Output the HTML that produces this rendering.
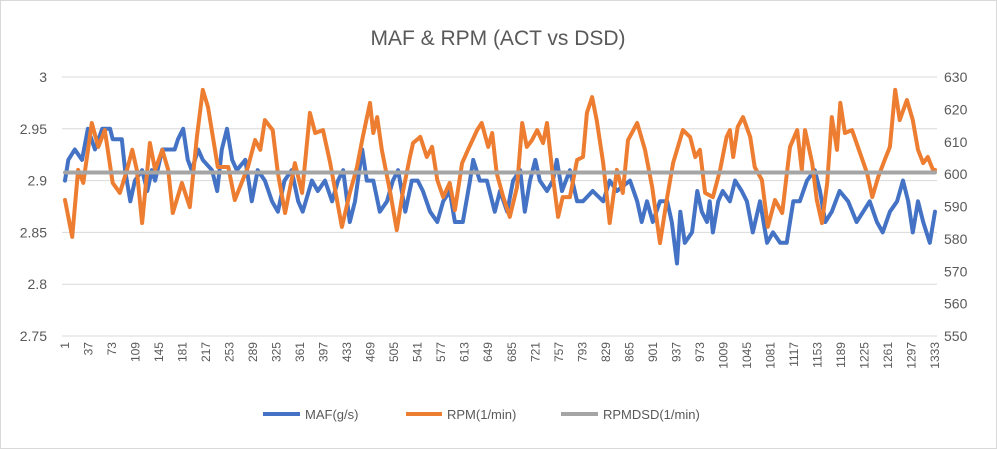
<!DOCTYPE html>
<html><head><meta charset="utf-8"><style>
body{margin:0;background:#fff;font-family:"Liberation Sans",sans-serif}
#wrap{position:relative;width:997px;height:449px;overflow:hidden}
</style></head><body>
<div id="wrap">
<svg id="chart" width="997" height="449" xmlns="http://www.w3.org/2000/svg">
<rect x="0.5" y="0.5" width="996" height="448" fill="#fff" stroke="#d9d9d9"/>
<text x="498" y="45" text-anchor="middle" font-size="21" fill="#595959" font-family="Liberation Sans, sans-serif">MAF &amp; RPM (ACT vs DSD)</text>
<g id="grid"></g><g id="yl"></g><g id="yr"></g><g id="xl"></g><g id="series"></g>
<g font-size="13" fill="#595959" font-family="Liberation Sans, sans-serif">
<line x1="263" y1="414" x2="300" y2="414" stroke="#4472c4" stroke-width="4"/>
<text x="305" y="419">MAF(g/s)</text>
<line x1="406" y1="414" x2="442" y2="414" stroke="#ed7d31" stroke-width="4"/>
<text x="447" y="419">RPM(1/min)</text>
<line x1="561" y1="414" x2="598" y2="414" stroke="#a5a5a5" stroke-width="4"/>
<text x="603" y="419">RPMDSD(1/min)</text>
</g>
</svg></div>
<script>
const leftTicks=[2.75,2.8,2.85,2.9,2.95,3];
const leftTickLabels=["2.75","2.8","2.85","2.9","2.95","3"];
const rightTicks=[550,560,570,580,590,600,610,620,630];
const xTickLabels=[];for(let v=1;v<=1333;v+=36)xTickLabels.push(v);
const mafIdx=[1,6,16,27,36,47,58,70,74,88,93,101,108,119,127,134,139,150,169,174,182,189,195,205,212,226,234,241,249,257,264,277,287,296,307,318,327,337,348,358,365,379,388,399,410,419,427,437,445,456,463,473,483,494,503,511,522,532,541,549,560,571,580,590,598,610,621,626,636,647,659,667,678,687,698,705,713,721,728,739,748,754,762,774,785,794,809,825,835,846,866,877,884,892,901,912,923,930,938,943,950,961,969,976,984,988,993,1001,1008,1019,1027,1037,1045,1054,1065,1076,1085,1096,1106,1116,1126,1137,1149,1157,1165,1175,1187,1200,1213,1223,1233,1244,1253,1264,1275,1284,1292,1299,1307,1315,1325,1333];
const mafVals=[2.90,2.92,2.93,2.92,2.95,2.93,2.95,2.95,2.94,2.94,2.91,2.88,2.90,2.91,2.89,2.91,2.90,2.93,2.93,2.94,2.95,2.92,2.91,2.93,2.92,2.91,2.89,2.93,2.95,2.92,2.91,2.92,2.88,2.91,2.90,2.88,2.87,2.90,2.91,2.88,2.87,2.90,2.89,2.90,2.88,2.90,2.91,2.86,2.88,2.93,2.90,2.90,2.87,2.88,2.90,2.91,2.87,2.90,2.90,2.89,2.87,2.86,2.88,2.89,2.86,2.86,2.90,2.92,2.90,2.90,2.87,2.89,2.87,2.90,2.91,2.87,2.90,2.92,2.90,2.89,2.90,2.92,2.89,2.91,2.88,2.88,2.89,2.88,2.90,2.89,2.90,2.88,2.86,2.88,2.86,2.88,2.88,2.86,2.82,2.87,2.84,2.85,2.89,2.87,2.86,2.88,2.85,2.88,2.89,2.88,2.90,2.89,2.88,2.85,2.88,2.84,2.85,2.84,2.84,2.88,2.88,2.90,2.91,2.89,2.86,2.87,2.89,2.88,2.86,2.87,2.88,2.86,2.85,2.87,2.88,2.90,2.88,2.85,2.88,2.86,2.84,2.87];
const rpmIdx=[1,12,21,29,42,52,62,74,85,96,104,111,119,131,139,150,159,166,180,192,203,212,220,235,251,261,281,292,300,307,319,327,338,353,364,376,384,396,407,425,437,448,457,468,473,479,486,499,509,518,529,534,545,555,563,571,580,590,598,609,618,632,639,649,655,662,672,682,693,701,708,716,724,733,739,748,756,763,774,785,794,800,808,815,825,835,846,855,863,877,889,900,912,923,932,947,958,966,973,981,993,1004,1014,1019,1024,1031,1039,1050,1057,1068,1077,1088,1099,1111,1122,1129,1134,1145,1152,1160,1168,1175,1183,1188,1195,1206,1215,1229,1237,1246,1256,1264,1272,1279,1290,1299,1307,1315,1322,1330,1333];
const rpmVals=[592,580.6,601.3,597.3,615.8,608.4,613.6,597.3,594.2,601.3,607.5,601.3,584.9,609.6,601.3,607.5,601.3,588,597.3,589.8,611.5,626,620.7,602.2,602.2,592,602.2,610.5,607.5,616.7,613.6,600.3,588,603.4,594.2,618.9,612.7,613.6,603.4,583.7,594.2,602.2,611.5,622,612.7,617.6,607.5,594.2,582.7,594.2,605.3,609.6,611.5,605.3,608.4,598.2,592.9,597.3,588.9,603.4,607.5,613.6,615.8,608.4,612.7,600.3,592.9,586.8,596,615.8,608.4,610.5,613.6,609.6,615.8,599.1,586.8,592.9,592.9,604.4,605.3,618.9,623.8,616.7,603.4,584.9,601.3,594.2,610.5,615.8,607.5,596,578.7,592.9,603.4,613.6,611.5,605.3,607.5,594.2,592.9,601.3,611.5,613.6,605.3,614.6,617.6,611.5,602.2,598.2,583.7,592,588,608.4,613.6,601.3,613.6,603.4,592,584.9,597.3,617.6,607.5,622,612.7,613.6,608.4,600.3,592.9,599.1,604.4,608.4,626,616.7,622.9,616.7,607.5,603.4,605.3,601.3,601.3];
const rpmDsd=[600.5,600.5];
const rpmDsdIdx=[1,1333];

const NS="http://www.w3.org/2000/svg";
const X0=65,X1=935,YT=77,YB=336;
const xs=i=>X0+(i-1)*(X1-X0)/1332;
const yL=v=>YB-(v-2.75)*(YB-YT)/0.25;
const yR=v=>YB-(v-550)*(YB-YT)/80;
function mk(tag,attrs,parent){const e=document.createElementNS(NS,tag);for(const k in attrs)e.setAttribute(k,attrs[k]);parent.appendChild(e);return e;}
const grid=document.getElementById('grid'),yl=document.getElementById('yl'),yr=document.getElementById('yr'),xl=document.getElementById('xl'),ser=document.getElementById('series');
leftTicks.forEach((v,k)=>{
 const g=mk('line',{x1:62,x2:937,y1:yL(v),y2:yL(v),stroke:'#d9d9d9','stroke-width':1},grid);
 
 
 const t=mk('text',{x:47,y:yL(v)+5,'text-anchor':'end','font-size':14,fill:'#595959'},yl);
 t.textContent=leftTickLabels[k];
 
 
});
rightTicks.forEach(v=>{
 const t=mk('text',{x:944,y:yR(v)+5,'font-size':14,fill:'#595959'},yr);
 t.textContent=v;
 
 
});
xTickLabels.forEach(v=>{
 const x=xs(v)+4;
 const t=mk('text',{x:x,y:342,'text-anchor':'end','font-size':12,fill:'#595959',transform:`rotate(-90 ${x} 342)`},xl);
 t.textContent=v;
 
 
});
function line(idx,vals,yf,color,name){
 const p=idx.map((i,k)=>xs(i).toFixed(1)+','+yf(vals[k]).toFixed(1)).join(' ');
 const e=mk('polyline',{points:p,fill:'none',stroke:color,'stroke-width':4,'stroke-linejoin':'round','stroke-linecap':'round'},ser);
 
 
}
line(mafIdx,mafVals,yL,'#4472c4','maf-series');
line(rpmIdx,rpmVals,yR,'#ed7d31','rpm-series');
line(rpmDsdIdx,rpmDsd,yR,'#a5a5a5','rpmdsd-series');
</script>
</body></html>
